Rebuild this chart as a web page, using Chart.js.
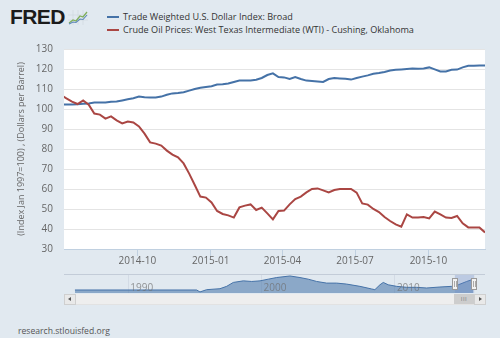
<!DOCTYPE html>
<html>
<head>
<meta charset="utf-8">
<script src="https://cdn.jsdelivr.net/npm/chart.js@4.4.1/dist/chart.umd.min.js"></script>
<style>
  body { margin: 0; background: #e1e9f0; font-family: "Open Sans", sans-serif; }
  #page { position: relative; width: 500px; height: 338px; overflow: hidden; background: #e1e9f0; }
  .abs { position: absolute; }
  #logo { left: 10px; top: 5px; font: bold 21px "Liberation Sans", Arial, sans-serif; color: #1b1b1b; letter-spacing: -0.6px; }
  #icon { left: 68px; top: 10px; }
  .leg { left: 107px; font-size: 9.1px; color: #333; line-height: 12px; white-space: nowrap; }
  .leg i { display: inline-block; width: 12px; height: 2px; vertical-align: middle; margin-right: 4px; position: relative; top: -1px; }
  #main { left: 0; top: 0; }
  #nav { left: 64px; top: 275px; }
  #navTop { left: 64px; top: 274px; width: 421px; height: 1px; background: #c3ccd8; }
  #track { left: 64px; top: 294px; width: 420px; height: 10px; background: #eeeeee; border: 1px solid #e2e2e2; border-width: 0 1px 1px 0; }
  .btn { top: 294px; width: 10px; height: 9px; background: #e9e9e9; border: 1px solid #cfcfcf; }
  .btn b { position: absolute; left: 3px; top: 2px; width: 0; height: 0; border-top: 2.5px solid transparent; border-bottom: 2.5px solid transparent; }
  #thumb { left: 454px; top: 294px; width: 20px; height: 10px; background: #cdcdcd; font-size: 6px; line-height: 10px; text-align: center; color: #777; letter-spacing: 0.5px; }
  #src { left: 18px; top: 325px; font-size: 8.6px; color: #555; }
</style>
</head>
<body>
<div id="page">
  <div id="logo" class="abs">FRED</div>
  <svg id="icon" class="abs" width="20" height="15" viewBox="0 0 20 15">
    <path d="M0 5H20M0 10H20M5 0V15M10 0V15M15 0V15" stroke="#cfd6de" stroke-width="0.6"/>
    <polyline points="1,13 5,10 8,11 12,6 15,7 19,2" fill="none" stroke="#7fae5a" stroke-width="1.3"/>
    <polyline points="1,14 5,12 8,12.5 12,9 15,9.5 19,5" fill="none" stroke="#5b86b8" stroke-width="1.1"/>
  </svg>
  <div class="abs leg" style="top:11px"><i style="background:#4572a7"></i>Trade Weighted U.S. Dollar Index: Broad</div>
  <div class="abs leg" style="top:24px"><i style="background:#aa4643"></i>Crude Oil Prices: West Texas Intermediate (WTI) - Cushing, Oklahoma</div>

  <canvas id="main" class="abs" width="500" height="280"></canvas>

  <div id="navTop" class="abs"></div>
  <canvas id="nav" class="abs" width="421" height="18"></canvas>
  <div id="track" class="abs"></div>
  <div class="abs btn" style="left:64px"><b style="border-right:3px solid #555"></b></div>
  <div id="thumb" class="abs">III</div>
  <div class="abs btn" style="left:474px"><b style="border-left:3px solid #555;left:4px"></b></div>

  <div id="src" class="abs">research.stlouisfed.org</div>
</div>

<script>
// ======================
// Data (weekly)
// ======================
const weeks = [
  '2014-06-27', '2014-07-04', '2014-07-11', '2014-07-18', '2014-07-25', '2014-08-01', '2014-08-08', '2014-08-15',
  '2014-08-22', '2014-08-29', '2014-09-05', '2014-09-12', '2014-09-19', '2014-09-26', '2014-10-03', '2014-10-10',
  '2014-10-17', '2014-10-24', '2014-10-31', '2014-11-07', '2014-11-14', '2014-11-21', '2014-11-28', '2014-12-05',
  '2014-12-12', '2014-12-19', '2014-12-26', '2015-01-02', '2015-01-09', '2015-01-16', '2015-01-23', '2015-01-30',
  '2015-02-06', '2015-02-13', '2015-02-20', '2015-02-27', '2015-03-06', '2015-03-13', '2015-03-20', '2015-03-27',
  '2015-04-03', '2015-04-10', '2015-04-17', '2015-04-24', '2015-05-01', '2015-05-08', '2015-05-15', '2015-05-22',
  '2015-05-29', '2015-06-05', '2015-06-12', '2015-06-19', '2015-06-26', '2015-07-03', '2015-07-10', '2015-07-17',
  '2015-07-24', '2015-07-31', '2015-08-07', '2015-08-14', '2015-08-21', '2015-08-28', '2015-09-04', '2015-09-11',
  '2015-09-18', '2015-09-25', '2015-10-02', '2015-10-09', '2015-10-16', '2015-10-23', '2015-10-30', '2015-11-06',
  '2015-11-13', '2015-11-20', '2015-11-27', '2015-12-04', '2015-12-11'
];

const dollarIndex = [
  102.2, 102.2, 102.3, 102.4, 102.6, 102.8, 103.2, 103.2, 103.2, 103.6,
  103.7, 104.3, 104.9, 105.4, 106.2, 105.9, 105.8, 105.8, 106.2, 107.1,
  107.8, 108, 108.4, 109.2, 110, 110.6, 111, 111.4, 112.2, 112.4,
  112.8, 113.5, 114.2, 114.2, 114.2, 114.6, 115.5, 117, 117.8, 116,
  115.8, 115, 116, 115, 114.2, 114, 113.8, 113.5, 115, 115.5,
  115.3, 115.1, 114.7, 115.5, 116.2, 116.8, 117.6, 118, 118.5, 119.2,
  119.6, 119.8, 120, 120.2, 120.1, 120.3, 120.8, 119.8, 118.8, 118.8,
  119.6, 119.7, 120.8, 121.6, 121.6, 121.8, 121.8
];

const wtiPrice = [
  107, 105.3, 103.7, 102.5, 104.3, 102.2, 97.7, 97.2, 95.2, 96.3,
  94.3, 92.8, 93.7, 93.3, 91.3, 87.7, 83.3, 82.7, 81.7, 79.2,
  77.2, 75.8, 72.8, 67.7, 62, 56.2, 55.7, 53.3, 49, 47.5,
  46.8, 45.7, 50.8, 51.7, 52.3, 49.5, 50.7, 47.8, 44.8, 49,
  49.2, 52.3, 55, 56.2, 58.3, 60, 60.3, 59.3, 58.3, 59.5,
  60, 60, 60, 58.2, 52.8, 52.2, 50, 48.5, 46, 44,
  42.3, 41.2, 47.3, 45.7, 45.8, 46, 45.3, 48.7, 47.3, 45.7,
  45.5, 46.5, 42.8, 40.8, 40.8, 40.7, 38.3
];

const viewStart = '2014-07-01';
const viewEnd = '2015-12-11';
const tickDates = ['2014-10-01', '2015-01-01', '2015-04-01', '2015-07-01', '2015-10-01'];
const tickLabels = ['2014-10', '2015-01', '2015-04', '2015-07', '2015-10'];

// navigator (long history of the dollar index, rough read)
const navYears = [1986.0, 1995.13, 1995.38, 1995.88, 1996.88, 1997.38, 1997.88, 1998.63, 1999.26, 1999.88,
  2000.5, 2001.13, 2002.13, 2002.88, 2003.5, 2004.13, 2004.88, 2005.63, 2006.38, 2007.38,
  2008.26, 2008.5, 2008.88, 2009.13, 2009.5, 2010.13, 2010.88, 2011.63, 2012.38, 2013.38,
  2014.26, 2014.76, 2015.39, 2015.88];
const navValues = [94.2, 94.2, 89.2, 95, 97.5, 103.5, 113.5, 117.5, 116, 117.5,
  121.8, 126, 130, 126, 121.8, 116, 111.8, 111.8, 109.3, 103.5,
  96.8, 95, 107.5, 113.5, 107.5, 103.5, 101, 101, 99.3, 101.8,
  103.5, 107.5, 116, 121.8];
const navTicks = [1990, 2000, 2010];
const navRange = [1985.18, 2016.76];
const navSelected = [2014.5, 2015.95];

// ======================
// Main chart
// ======================
const plotBg = {
  id: 'plotBg',
  beforeDraw(chart) {
    const { ctx, chartArea: a } = chart;
    ctx.save();
    ctx.fillStyle = '#ffffff';
    ctx.fillRect(a.left, a.top, a.width, a.height);
    ctx.restore();
  }
};

const toPoints = vals => weeks.map((d, i) => ({ x: Date.parse(d), y: vals[i] }));

new Chart(document.getElementById('main'), {
  type: 'line',
  data: {
    datasets: [
      {
        label: 'Trade Weighted U.S. Dollar Index: Broad',
        data: toPoints(dollarIndex),
        borderColor: '#4572a7',
        borderWidth: 2,
        pointRadius: 0,
        clip: 0,
        order: 1
      },
      {
        label: 'Crude Oil Prices: West Texas Intermediate (WTI) - Cushing, Oklahoma',
        data: toPoints(wtiPrice),
        borderColor: '#aa4643',
        borderWidth: 2,
        pointRadius: 0,
        clip: 0,
        order: 0
      }
    ]
  },
  options: {
    responsive: false,
    animation: false,
    layout: { padding: { left: 0, top: 49, right: 15, bottom: 0 } },
    plugins: { legend: { display: false }, tooltip: { enabled: false } },
    scales: {
      x: {
        type: 'linear',
        min: Date.parse(viewStart),
        max: Date.parse(viewEnd),
        afterBuildTicks: s => { s.ticks = tickDates.map(d => ({ value: Date.parse(d) })); },
        afterFit: s => { s.height = 31; },
        grid: { drawOnChartArea: false, tickLength: 7, color: '#c0d0e0' },
        border: { color: '#c0d0e0' },
        ticks: {
          autoSkip: false, maxRotation: 0, padding: -1,
          color: '#666', font: { family: 'Open Sans', size: 10 },
          callback: (v, i) => tickLabels[i]
        }
      },
      y: {
        min: 30,
        max: 130,
        afterFit: s => { s.width = 64; },
        grid: { color: '#e4e4e4', drawTicks: false },
        border: { display: false },
        ticks: { stepSize: 10, padding: 11, color: '#666', font: { family: 'Open Sans', size: 10 } },
        title: {
          display: true,
          text: '(Index Jan 1997=100) , (Dollars per Barrel)',
          color: '#666',
          font: { family: 'Open Sans', size: 9 },
          padding: { top: 16, bottom: 0 }
        }
      }
    }
  },
  plugins: [plotBg]
});

// ======================
// Navigator strip
// ======================
const navExtras = {
  id: 'navExtras',
  afterDatasetsDraw(chart) {
    const { ctx, scales: { x }, chartArea: a } = chart;
    ctx.save();
    const x0 = x.getPixelForValue(navSelected[0]);
    const x1 = x.getPixelForValue(navSelected[1]);
    ctx.fillStyle = 'rgba(102,133,194,0.3)';
    ctx.fillRect(x0, a.top, x1 - x0, a.height);
    ctx.font = '10px "Open Sans"';
    ctx.fillStyle = 'rgba(110,110,110,0.7)';
    ctx.textBaseline = 'middle';
    navTicks.forEach(yr => ctx.fillText(String(yr), x.getPixelForValue(yr) + 2, 13));
    [x0, x1].forEach(px => {
      ctx.fillStyle = '#f2f2f2';
      ctx.strokeStyle = '#999';
      ctx.lineWidth = 1;
      ctx.fillRect(Math.round(px) - 2.5, 3.5, 5, 11);
      ctx.strokeRect(Math.round(px) - 2.5, 3.5, 5, 11);
      ctx.beginPath();
      ctx.moveTo(Math.round(px) - 0.5, 6); ctx.lineTo(Math.round(px) - 0.5, 12);
      ctx.moveTo(Math.round(px) + 1.5, 6); ctx.lineTo(Math.round(px) + 1.5, 12);
      ctx.strokeStyle = '#aaa';
      ctx.stroke();
    });
    ctx.restore();
  }
};

new Chart(document.getElementById('nav'), {
  type: 'line',
  data: {
    datasets: [{
      data: navYears.map((yr, i) => ({ x: yr, y: navValues[i] })),
      borderColor: '#4572a7',
      borderWidth: 1,
      backgroundColor: 'rgba(69,114,167,0.55)',
      fill: 'start',
      pointRadius: 0
    }]
  },
  options: {
    responsive: false,
    animation: false,
    layout: { padding: 0 },
    plugins: { legend: { display: false }, tooltip: { enabled: false } },
    scales: {
      x: {
        type: 'linear',
        min: navRange[0],
        max: navRange[1],
        afterBuildTicks: s => { s.ticks = navTicks.map(v => ({ value: v })); },
        afterFit: s => { s.height = 0; },
        grid: { color: '#d3dbe5', drawTicks: false },
        border: { display: false },
        ticks: { display: false }
      },
      y: { display: false, min: 86.5, max: 132.5 }
    }
  },
  plugins: [navExtras]
});
</script>
</body>
</html>
